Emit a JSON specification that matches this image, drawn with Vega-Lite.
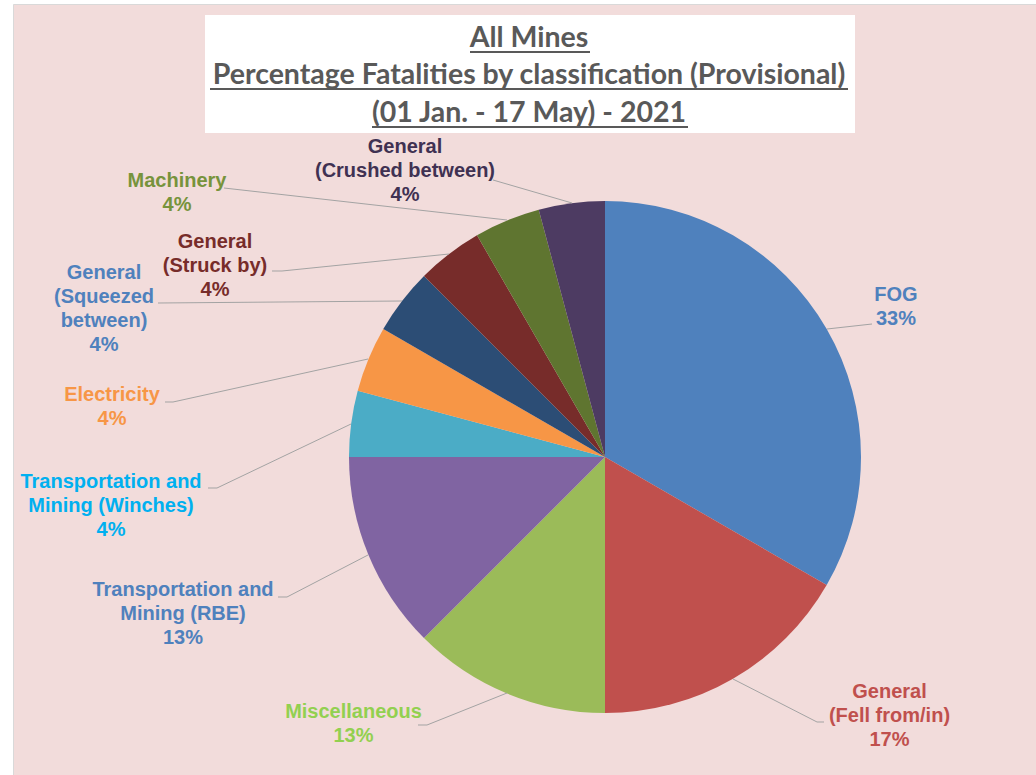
{
  "$schema": "https://vega.github.io/schema/vega-lite/v6.json",
  "autosize": {"type": "fit", "contains": "padding"},
  "width": 1036,
  "height": 775,
  "padding": {"left": 13, "top": 4, "right": 0, "bottom": 0},
  "background": "#ffffff",
  "config": {"view": {"fill": "#F2DCDB", "stroke": "#D9D9D9", "strokeWidth": 1}},
  "datasets": {
    "slices": [
      {"idx": 1, "category": "FOG", "count": 8},
      {"idx": 2, "category": "General (Fell from/in)", "count": 4},
      {"idx": 3, "category": "Miscellaneous", "count": 3},
      {"idx": 4, "category": "Transportation and Mining (RBE)", "count": 3},
      {"idx": 5, "category": "Transportation and Mining (Winches)", "count": 1},
      {"idx": 6, "category": "Electricity", "count": 1},
      {"idx": 7, "category": "General (Squeezed between)", "count": 1},
      {"idx": 8, "category": "General (Struck by)", "count": 1},
      {"idx": 9, "category": "Machinery", "count": 1},
      {"idx": 10, "category": "General (Crushed between)", "count": 1}
    ],
    "labels": [
      {"category": "FOG", "text": "FOG\n33%", "lx": 291, "ly": 162},
      {"category": "General (Fell from/in)", "text": "General\n(Fell from/in)\n17%", "lx": 284.5, "ly": -235},
      {"category": "Miscellaneous", "text": "Miscellaneous\n13%", "lx": -251.5, "ly": -255},
      {"category": "Transportation and Mining (RBE)", "text": "Transportation and\nMining (RBE)\n13%", "lx": -422, "ly": -133},
      {"category": "Transportation and Mining (Winches)", "text": "Transportation and\nMining (Winches)\n4%", "lx": -494, "ly": -25},
      {"category": "Electricity", "text": "Electricity\n4%", "lx": -493, "ly": 62},
      {"category": "General (Squeezed between)", "text": "General\n(Squeezed\nbetween)\n4%", "lx": -501, "ly": 184},
      {"category": "General (Struck by)", "text": "General\n(Struck by)\n4%", "lx": -390, "ly": 215},
      {"category": "Machinery", "text": "Machinery\n4%", "lx": -428, "ly": 276},
      {"category": "General (Crushed between)", "text": "General\n(Crushed between)\n4%", "lx": -200, "ly": 310}
    ],
    "leaders": [
      {"category": "FOG", "pt": 1, "px": 222, "py": 128},
      {"category": "FOG", "pt": 2, "px": 267, "py": 133},
      {"category": "Fell", "pt": 1, "px": 128, "py": -222},
      {"category": "Fell", "pt": 2, "px": 212, "py": -265},
      {"category": "Fell", "pt": 3, "px": 219, "py": -265},
      {"category": "Misc", "pt": 1, "px": -187, "py": -268},
      {"category": "Misc", "pt": 2, "px": -178, "py": -268},
      {"category": "Misc", "pt": 3, "px": -98, "py": -236},
      {"category": "RBE", "pt": 1, "px": -327, "py": -140},
      {"category": "RBE", "pt": 2, "px": -318, "py": -140},
      {"category": "RBE", "pt": 3, "px": -237, "py": -98},
      {"category": "Winches", "pt": 1, "px": -397, "py": -31},
      {"category": "Winches", "pt": 2, "px": -388, "py": -31},
      {"category": "Winches", "pt": 3, "px": -254, "py": 33},
      {"category": "Electricity", "pt": 1, "px": -440, "py": 55},
      {"category": "Electricity", "pt": 2, "px": -432, "py": 55},
      {"category": "Electricity", "pt": 3, "px": -237, "py": 98},
      {"category": "Squeezed", "pt": 1, "px": -447, "py": 154},
      {"category": "Squeezed", "pt": 2, "px": -203, "py": 156},
      {"category": "Struck", "pt": 1, "px": -333, "py": 186},
      {"category": "Struck", "pt": 2, "px": -323, "py": 186},
      {"category": "Struck", "pt": 3, "px": -156, "py": 203},
      {"category": "Machinery", "pt": 1, "px": -381, "py": 269},
      {"category": "Machinery", "pt": 2, "px": -98, "py": 237},
      {"category": "Crushed", "pt": 1, "px": -112, "py": 277},
      {"category": "Crushed", "pt": 2, "px": -33, "py": 254}
    ],
    "titleLines": [
      {"line": "All Mines", "ty": 410, "ux1": -135, "ux2": -15, "uy": 405},
      {"line": "Percentage Fatalities by classification (Provisional)", "ty": 373, "ux1": -395, "ux2": 243, "uy": 368},
      {"line": "(01 Jan. -  17 May) - 2021", "ty": 335, "ux1": -233, "ux2": 83, "uy": 330}
    ]
  },
  "layer": [
    {
      "data": {"values": [{"box": "title"}]},
      "mark": {"type": "rect", "fill": "#ffffff"},
      "encoding": {
        "x": {"datum": -400, "type": "quantitative", "scale": {"domain": [-592, 431], "nice": false, "zero": false}, "axis": null},
        "x2": {"datum": 250},
        "y": {"datum": 442, "type": "quantitative", "scale": {"domain": [-318, 453], "nice": false, "zero": false}, "axis": null},
        "y2": {"datum": 324}
      }
    },
    {
      "data": {"name": "slices"},
      "mark": {"type": "arc", "outerRadius": 256},
      "encoding": {
        "theta": {"field": "count", "type": "quantitative", "stack": true},
        "order": {"field": "idx", "type": "quantitative"},
        "color": {
          "field": "category", "type": "nominal", "legend": null,
          "scale": {
            "domain": ["FOG", "General (Fell from/in)", "Miscellaneous", "Transportation and Mining (RBE)", "Transportation and Mining (Winches)", "Electricity", "General (Squeezed between)", "General (Struck by)", "Machinery", "General (Crushed between)"],
            "range": ["#4F81BD", "#C0504D", "#9BBB59", "#8064A2", "#4BACC6", "#F79646", "#2C4D75", "#772C2A", "#5F7530", "#4D3B62"]
          }
        },
        "x": {"datum": 0, "type": "quantitative", "scale": {"domain": [-592, 431], "nice": false, "zero": false}, "axis": null},
        "y": {"datum": 0, "type": "quantitative", "scale": {"domain": [-318, 453], "nice": false, "zero": false}, "axis": null}
      }
    },
    {
      "data": {"name": "leaders"},
      "mark": {"type": "line", "color": "#A3A3A3", "strokeWidth": 1},
      "encoding": {
        "x": {"field": "px", "type": "quantitative", "scale": {"domain": [-592, 431], "nice": false, "zero": false}, "axis": null},
        "y": {"field": "py", "type": "quantitative", "scale": {"domain": [-318, 453], "nice": false, "zero": false}, "axis": null},
        "detail": {"field": "category"},
        "order": {"field": "pt", "type": "quantitative"}
      }
    },
    {
      "data": {"name": "labels"},
      "mark": {"type": "text", "font": "Liberation Sans", "fontWeight": "bold", "fontSize": 20, "lineHeight": 24, "lineBreak": "\n", "align": "center", "baseline": "middle"},
      "encoding": {
        "x": {"field": "lx", "type": "quantitative", "scale": {"domain": [-592, 431], "nice": false, "zero": false}, "axis": null},
        "y": {"field": "ly", "type": "quantitative", "scale": {"domain": [-318, 453], "nice": false, "zero": false}, "axis": null},
        "text": {"field": "text"},
        "color": {
          "field": "category", "type": "nominal", "legend": null,
          "scale": {
            "domain": ["FOG", "General (Fell from/in)", "Miscellaneous", "Transportation and Mining (RBE)", "Transportation and Mining (Winches)", "Electricity", "General (Squeezed between)", "General (Struck by)", "Machinery", "General (Crushed between)"],
            "range": ["#4F81BD", "#C0504D", "#92D050", "#4F81BD", "#00B0F0", "#F79646", "#4F81BD", "#772C2A", "#77933C", "#403152"]
          }
        }
      }
    },
    {
      "data": {"name": "titleLines"},
      "mark": {"type": "text", "font": "Lato", "fontWeight": "bold", "fontSize": 28.5, "align": "center", "baseline": "alphabetic", "color": "#595959"},
      "encoding": {
        "x": {"datum": -76, "type": "quantitative", "scale": {"domain": [-592, 431], "nice": false, "zero": false}, "axis": null},
        "y": {"field": "ty", "type": "quantitative", "scale": {"domain": [-318, 453], "nice": false, "zero": false}, "axis": null},
        "text": {"field": "line"}
      }
    },
    {
      "data": {"name": "titleLines"},
      "mark": {"type": "rule", "color": "#595959", "strokeWidth": 2},
      "encoding": {
        "x": {"field": "ux1", "type": "quantitative", "scale": {"domain": [-592, 431], "nice": false, "zero": false}, "axis": null},
        "x2": {"field": "ux2"},
        "y": {"field": "uy", "type": "quantitative", "scale": {"domain": [-318, 453], "nice": false, "zero": false}, "axis": null}
      }
    }
  ],
  "resolve": {"scale": {"color": "independent"}}
}
